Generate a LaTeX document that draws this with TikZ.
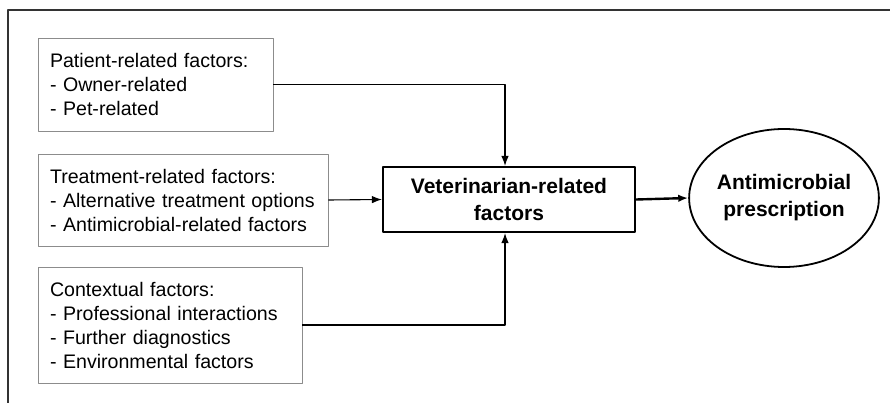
\documentclass[tikz,border=0pt]{standalone}
\usepackage{fontspec}
\setmainfont{Liberation Sans}
\usetikzlibrary{shapes.geometric,arrows.meta}
\begin{document}
\begin{tikzpicture}[x=1pt, y=-1pt, line join=round, >={Latex[length=10pt,width=7.5pt]},
		factor/.style={draw=black!45, line width=0.9pt, align=left, inner xsep=12pt, inner ysep=0pt, font=\fontsize{19.6}{24}\selectfont},
		main/.style={align=center, font=\bfseries\fontsize{21}{27}\selectfont}]
		\useasboundingbox (0,0) rectangle (890,403);
		% frame
		\draw[line width=1.6pt, black!80] (8,403) -- (8,10) -- (890,10);
		% factor boxes
		\node[factor, text width=211pt, minimum height=93pt] (pat) at (155.5,84.5) {Patient-related factors:\\- Owner-related\\- Pet-related};
		\node[factor, text width=266pt, minimum height=92pt] (treat) at (183,200) {Treatment-related factors:\\- Alternative treatment options\\- Antimicrobial-related factors};
		\node[factor, text width=240pt, minimum height=116pt] (ctx) at (170,325) {Contextual factors:\\- Professional interactions\\- Further diagnostics\\- Environmental factors};
		\node[main, draw, line width=2.2pt, minimum width=252pt, minimum height=65pt] (vet) at (509,199.5) {Veterinarian-related\\factors};
		\node[main, draw, ellipse, line width=1.8pt, minimum width=180pt, minimum height=138pt, inner sep=0pt] (presc) at (784,198) {Antimicrobial\\prescription};
		% connectors
		\draw[->, line width=1.1pt] (pat.east) -| ([xshift=-4pt]vet.north);
		\draw[->, line width=1.1pt] (treat.east) -- (vet.west);
		\draw[->, line width=1.1pt] (ctx.east) -| ([xshift=-4pt]vet.south);
		\draw[->, line width=2.4pt] (vet.east) -- (presc.west);
\end{tikzpicture}
\end{document}
